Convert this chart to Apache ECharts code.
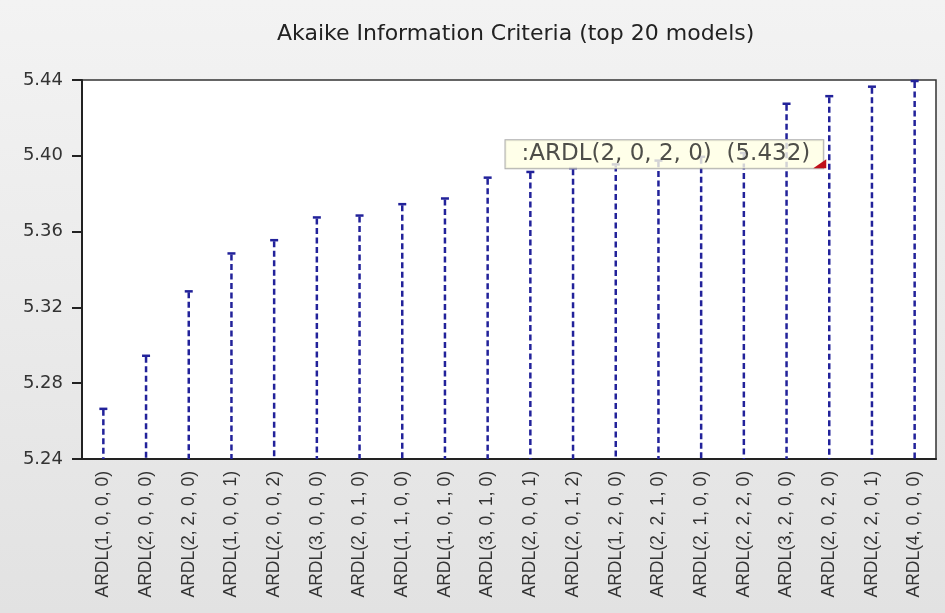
<!DOCTYPE html>
<html>
<head>
<meta charset="utf-8">
<script src="https://cdn.jsdelivr.net/npm/echarts@6/dist/echarts.min.js"></script>
<style>
  html, body { margin: 0; padding: 0; }
  #main { width: 945px; height: 613px; }
</style>
</head>
<body>
<div id="main"></div>
<script>
// model labels, sorted by AIC
const models = [
  'ARDL(1, 0, 0, 0)', 'ARDL(2, 0, 0, 0)', 'ARDL(2, 2, 0, 0)', 'ARDL(1, 0, 0, 1)',
  'ARDL(2, 0, 0, 2)', 'ARDL(3, 0, 0, 0)', 'ARDL(2, 0, 1, 0)', 'ARDL(1, 1, 0, 0)',
  'ARDL(1, 0, 1, 0)', 'ARDL(3, 0, 1, 0)', 'ARDL(2, 0, 0, 1)', 'ARDL(2, 0, 1, 2)',
  'ARDL(1, 2, 0, 0)', 'ARDL(2, 2, 1, 0)', 'ARDL(2, 1, 0, 0)', 'ARDL(2, 2, 2, 0)',
  'ARDL(3, 2, 0, 0)', 'ARDL(2, 0, 2, 0)', 'ARDL(2, 2, 0, 1)', 'ARDL(4, 0, 0, 0)'
];
// AIC values
const aic = [
  5.267, 5.295, 5.329, 5.349, 5.356, 5.368, 5.369, 5.375, 5.378, 5.389,
  5.392, 5.394, 5.396, 5.398, 5.400, 5.402, 5.428, 5.432, 5.437, 5.440
];
const yTicks = { min: 5.24, max: 5.44, interval: 0.04 };
const hoverIndex = 17;

const stemColor = '#22229a';

let myChart;
function renderStem(params, api) {
  const top = api.coord([api.value(0), api.value(1)]);
  const base = api.coord([api.value(0), yTicks.min]);
  return {
    type: 'group',
    children: [
      {
        type: 'line',
        shape: { x1: top[0], y1: top[1] + 2, x2: base[0], y2: base[1] },
        style: { stroke: stemColor, lineWidth: 2.5, lineDash: [6, 3.5] }
      },
      {
        type: 'line',
        shape: { x1: top[0] - 4, y1: top[1] + 1, x2: top[0] + 4, y2: top[1] + 1 },
        style: { stroke: stemColor, lineWidth: 2.5 }
      }
    ]
  };
}

function init() {
  myChart = echarts.init(document.getElementById('main'));
  myChart.setOption({
    animation: false,
    backgroundColor: {
      type: 'linear', x: 0, y: 0, x2: 0, y2: 1,
      colorStops: [{ offset: 0, color: '#f3f3f3' }, { offset: 1, color: '#e2e2e2' }]
    },
    title: {
      text: 'Akaike Information Criteria (top 20 models)',
      left: 272,
      top: 18,
      textStyle: { fontFamily: 'DejaVu Sans', fontSize: 22, fontWeight: 'normal', color: '#222' }
    },
    grid: {
      left: 82, right: 9, top: 80, bottom: 154,
      show: true, backgroundColor: '#fff', borderColor: '#333', borderWidth: 1.5
    },
    xAxis: {
      type: 'category',
      data: models,
      boundaryGap: true,
      axisLine: { lineStyle: { color: '#222', width: 2 } },
      axisTick: { length: 8, lineStyle: { color: '#222', width: 2 } },
      axisLabel: {
        rotate: 90, margin: 12, interval: 0,
        fontFamily: 'Liberation Sans', fontSize: 17.5, color: '#333'
      }
    },
    yAxis: {
      type: 'value',
      min: yTicks.min, max: yTicks.max, interval: yTicks.interval,
      splitLine: { show: false },
      axisLine: { show: true, lineStyle: { color: '#222', width: 2 } },
      axisTick: { show: true, length: 10, lineStyle: { color: '#222', width: 2 } },
      axisLabel: {
        margin: 19,
        fontFamily: 'DejaVu Sans', fontSize: 18, color: '#333',
        formatter: v => v.toFixed(2)
      }
    },
    series: [
      {
        name: 'AIC',
        type: 'custom',
        renderItem: renderStem,
        data: aic.map((v, i) => [i, v]),
        z: 2
      },
      {
        name: 'hover',
        type: 'scatter',
        zlevel: 1,
        symbolSize: 0,
        data: [[hoverIndex, aic[hoverIndex]]],
        label: {
          show: true,
          position: [-6, 59],
          align: 'right',
          verticalAlign: 'middle',
          formatter: ':' + models[hoverIndex] + '  (' + aic[hoverIndex].toFixed(3) + ')',
          fontFamily: 'DejaVu Sans', fontSize: 23, color: '#222',
          backgroundColor: '#ffffe4', borderColor: '#999', borderWidth: 1,
          padding: [3, 13, 2, 16]
        },
        markPoint: {
          symbol: 'path://M0,10 L10,0 L10,10 Z',
          symbolSize: [13, 9],
          symbolOffset: [-9.5, 68.5],
          itemStyle: { color: '#c0101a' },
          label: { show: false },
          zlevel: 2,
          z: 10,
          data: [{ coord: [hoverIndex, aic[hoverIndex]] }]
        },
        z: 5
      }
    ]
  });
}

init();
</script>
</body>
</html>
